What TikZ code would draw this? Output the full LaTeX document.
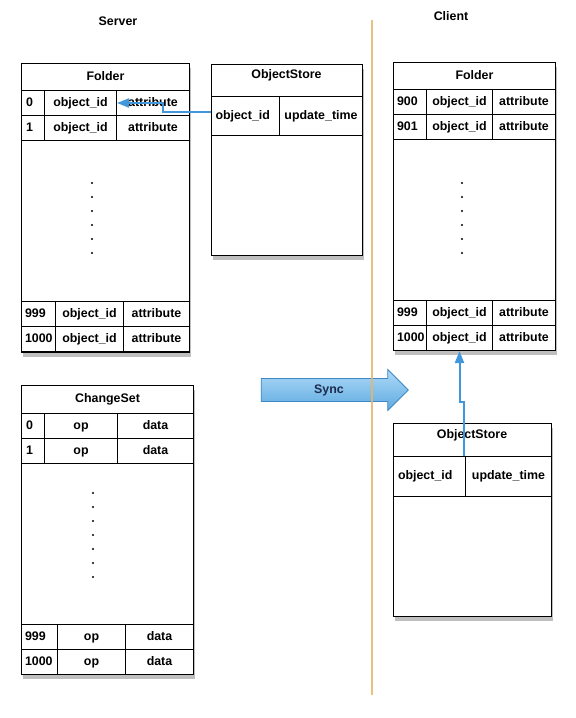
\documentclass[tikz,border=0pt]{standalone}
\usepackage{fontspec}
\setmainfont{Liberation Sans}
\usepackage{tikz}
\usetikzlibrary{positioning,arrows.meta,shapes.arrows,shadows}
\definecolor{linkblue}{HTML}{4197DA}
\definecolor{synclight}{HTML}{AEDAF7}
\definecolor{syncdark}{HTML}{5EA9E0}
\definecolor{syncedge}{HTML}{3F88C5}
\definecolor{syncink}{HTML}{1C2B4E}
\definecolor{divider}{HTML}{E8B46A}
\tikzset{
  tbl/.style={rectangle,draw=black,line width=1pt,fill=white,anchor=north west,
    inner sep=0pt,drop shadow={shadow xshift=1pt,shadow yshift=-4pt,opacity=0.5}},
  cell/.style={rectangle,draw=black,line width=1pt,anchor=north west,inner sep=0pt,
    text height=9pt,text depth=2.5pt},
  cellL/.style={cell,align=left,inner xsep=4.5pt},
  hdr/.style={inner sep=1pt},
  dotmark/.style={circle,fill=black,inner sep=0pt,minimum size=2.2pt},
  link/.style={-{Triangle[length=12pt,width=9pt]},draw=linkblue,line width=2pt},
  syncarrow/.style={single arrow,draw=syncedge,line width=0.8pt,top color=synclight,
    bottom color=syncdark,minimum height=147pt,minimum width=40pt,
    single arrow head extend=9pt,inner ysep=5.5pt,text=syncink},
}
\begin{document}
\begin{tikzpicture}[x=1pt,y=-1pt,font=\bfseries\fontsize{12.4}{14}\selectfont]
  \useasboundingbox (0,0) rectangle (576,718);
  \node[hdr] (srv) at (118,21) {Server};
  \node[hdr] (cli) at (451,16) {Client};

  % server folder
  \node[tbl,minimum width=168pt,minimum height=289pt] (sfold) at (21,63) {};
  \node[cell,minimum width=168pt,minimum height=27pt] (sfoldt) at (21,63) {Folder};
  \foreach \n/\y in {0/90,1/115}{
    \node[cellL,text width=14pt,minimum height=25pt] (sfn\n) at (21,\y) {\n};
    \node[cell,minimum width=72pt,minimum height=25pt] (sfid\n) at (44,\y) {object\_id};
    \node[cell,minimum width=73pt,minimum height=25pt] (sfat\n) at (116,\y) {attribute};
  }
  \foreach \n/\y in {999/301,1000/326}{
    \node[cellL,inner xsep=3.5pt,text width=27pt,minimum height=25pt] (sfn\n) at (21,\y) {\n};
    \node[cell,minimum width=68pt,minimum height=25pt] (sfid\n) at (55,\y) {object\_id};
    \node[cell,minimum width=66pt,minimum height=25pt] (sfat\n) at (123,\y) {attribute};
  }
  \foreach \y in {183,197,...,253} \node[dotmark] at (92,\y) {};

  % server object store
  \node[tbl,minimum width=151pt,minimum height=191pt] (sobj) at (211,64) {};
  \node[cell,minimum width=151pt,minimum height=32pt] (sobjt) at (211,64) {};
  \node[hdr] (sobjlbl) at (286.5,75) {ObjectStore};
  \node[cellL,inner xsep=4pt,text width=60pt,minimum height=39pt] (sobjid) at (211,96) {object\_id};
  \node[cell,minimum width=83pt,minimum height=39pt] (sobjtm) at (279,96) {update\_time};

  % change set
  \node[tbl,minimum width=172pt,minimum height=289pt] (chg) at (21,385) {};
  \node[cell,minimum width=172pt,minimum height=28pt] (chgt) at (21,385) {ChangeSet};
  \foreach \n/\y in {0/413,1/438}{
    \node[cellL,text width=14pt,minimum height=25pt] (chn\n) at (21,\y) {\n};
    \node[cell,minimum width=73pt,minimum height=25pt] (chop\n) at (44,\y) {op};
    \node[cell,minimum width=76pt,minimum height=25pt] (chda\n) at (117,\y) {data};
  }
  \foreach \n/\y in {999/624,1000/649}{
    \node[cellL,inner xsep=3.5pt,text width=29pt,minimum height=25pt] (chn\n) at (21,\y) {\n};
    \node[cell,minimum width=68pt,minimum height=25pt] (chop\n) at (57,\y) {op};
    \node[cell,minimum width=68pt,minimum height=25pt] (chda\n) at (125,\y) {data};
  }
  \foreach \y in {493,507,...,577} \node[dotmark] at (93,\y) {};

  % client folder
  \node[tbl,minimum width=162pt,minimum height=288pt] (cfold) at (393,62) {};
  \node[cell,minimum width=162pt,minimum height=27pt] (cfoldt) at (393,62) {Folder};
  \foreach \n/\y in {900/89,901/114,999/300,1000/325}{
    \node[cellL,inner xsep=3.5pt,text width=26pt,minimum height=25pt] (cfn\n) at (393,\y) {\n};
    \node[cell,minimum width=66pt,minimum height=25pt] (cfid\n) at (426,\y) {object\_id};
    \node[cell,minimum width=63pt,minimum height=25pt] (cfat\n) at (492,\y) {attribute};
  }
  \foreach \y in {183,197,...,253} \node[dotmark] at (462,\y) {};

  % client object store
  \node[tbl,minimum width=158pt,minimum height=193pt] (cobj) at (393,423) {};
  \node[cell,minimum width=158pt,minimum height=33pt] (cobjt) at (393,423) {};
  \node[hdr] (cobjlbl) at (472,435) {ObjectStore};
  \node[cellL,inner xsep=4.5pt,text width=63pt,minimum height=40pt] (cobjid) at (393,456) {object\_id};
  \node[cell,minimum width=86pt,minimum height=40pt] (cobjtm) at (465,456) {update\_time};

  % sync
  \node[syncarrow] (sync) at (329,390) {Sync};
  \coordinate (divtop) at (372,20);
  \coordinate (divbot) at (372,695);
  \draw[divider,line width=2pt,opacity=0.85] (divtop) -- (divbot);

  \draw[link] ([yshift=4pt]sobjid.west) -- ++(-48,0) |- (sfid0.east);
  \draw[link] ([xshift=-2.5pt]cobjid.north east) -- ++(0,-54) -| (cfid1000.south);
\end{tikzpicture}
\end{document}
